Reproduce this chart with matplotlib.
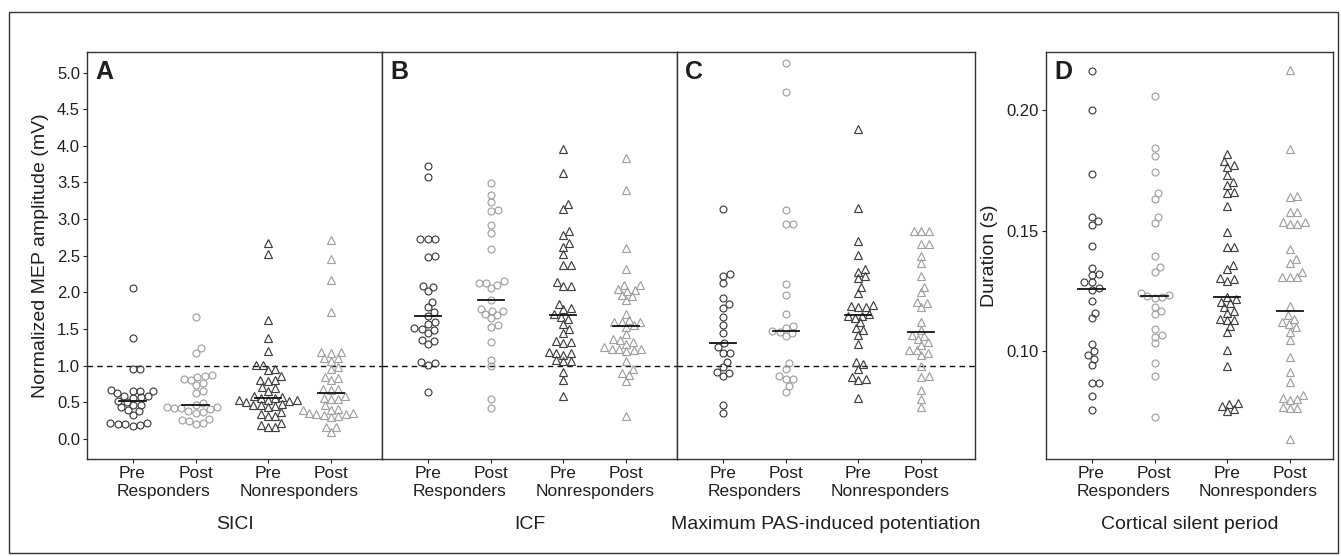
import numpy as np
import matplotlib
matplotlib.use('Agg')
from matplotlib import pyplot as plt
from matplotlib.patches import Rectangle

plt.rcParams['font.family'] = ['Liberation Sans', 'DejaVu Sans']

# valores
groups = ['Pre', 'Post', 'Pre', 'Post']
group_names = ['Responders', 'Nonresponders']
titles = ['SICI', 'ICF', 'Maximum PAS-induced potentiation', 'Cortical silent period']
letters = ['A', 'B', 'C', 'D']

# A - SICI
sici_pre_resp = [2.06, 1.38, 0.96, 0.96, 0.67, 0.66, 0.65, 0.65, 0.63, 0.59, 0.58, 0.57, 0.56,
                 0.52, 0.51, 0.46, 0.44, 0.47, 0.40, 0.38, 0.33, 0.22, 0.22, 0.21, 0.21, 0.18, 0.19]
sici_post_resp = [1.67, 1.24, 1.18, 0.87, 0.86, 0.85, 0.82, 0.80, 0.76, 0.73, 0.65, 0.63, 0.49,
                  0.47, 0.44, 0.43, 0.42, 0.42, 0.41, 0.38, 0.37, 0.36, 0.27, 0.25, 0.26, 0.22, 0.20]
sici_pre_non = [2.68, 2.53, 1.62, 1.38, 1.20, 1.01, 1.01, 0.95, 0.94, 0.86, 0.80, 0.80, 0.79,
                0.70, 0.71, 0.66, 0.58, 0.57, 0.56, 0.56, 0.53, 0.52, 0.51, 0.53, 0.53, 0.48,
                0.47, 0.45, 0.44, 0.46, 0.37, 0.34, 0.31, 0.31, 0.22, 0.19, 0.16, 0.16]
sici_post_non = [2.71, 2.46, 2.17, 1.73, 1.19, 1.19, 1.18, 1.11, 1.11, 1.07, 0.98, 0.95, 0.85,
                 0.83, 0.80, 0.68, 0.68, 0.67, 0.58, 0.56, 0.55, 0.54, 0.46, 0.41, 0.40, 0.40,
                 0.35, 0.34, 0.34, 0.35, 0.32, 0.30, 0.33, 0.17, 0.17, 0.10]

# B - ICF
icf_pre_resp = [3.73, 3.57, 2.73, 2.73, 2.73, 2.48, 2.50, 2.09, 2.02, 2.08, 1.87, 1.80, 1.73,
                1.68, 1.57, 1.60, 1.49, 1.50, 1.52, 1.45, 1.34, 1.30, 1.35, 1.03, 1.01, 1.05, 0.64]
icf_post_resp = [3.49, 3.33, 3.24, 3.11, 3.13, 2.92, 2.81, 2.59, 2.13, 2.15, 2.06, 2.10, 2.13,
                 1.89, 1.75, 1.71, 1.75, 1.78, 1.65, 1.69, 1.55, 1.53, 1.33, 1.08, 0.99, 0.54, 0.42]
icf_pre_non = [3.96, 3.63, 3.21, 3.14, 2.84, 2.78, 2.67, 2.62, 2.53, 2.38, 2.38, 2.09, 2.09,
               2.14, 1.79, 1.77, 1.84, 1.71, 1.64, 1.66, 1.57, 1.50, 1.44, 1.34, 1.31, 1.32,
               1.19, 1.15, 1.18, 1.17, 1.08, 1.07, 1.06, 0.92, 0.80, 0.59]
icf_post_non = [3.84, 3.40, 2.61, 2.32, 2.10, 2.02, 2.03, 2.10, 2.04, 1.96, 1.95, 1.89, 1.71,
                1.60, 1.60, 1.62, 1.60, 1.53, 1.55, 1.43, 1.35, 1.33, 1.36, 1.30, 1.23, 1.23,
                1.23, 1.20, 1.22, 1.25, 1.06, 0.95, 0.87, 0.90, 0.79, 0.31]

# C - PAS
pas_pre_resp = [3.14, 2.25, 2.23, 2.13, 1.93, 1.84, 1.79, 1.67, 1.55, 1.44, 1.31, 1.25, 1.18,
                1.18, 1.05, 0.98, 0.90, 0.91, 0.86, 0.47, 0.36]
pas_post_resp = [5.13, 4.74, 3.12, 2.93, 2.94, 2.11, 1.96, 1.71, 1.52, 1.54, 1.46, 1.45, 1.47,
                 1.41, 1.03, 0.95, 0.86, 0.82, 0.82, 0.72, 0.64]
pas_pre_non = [4.23, 3.15, 2.70, 2.51, 2.23, 2.28, 2.32, 2.19, 2.07, 1.99, 1.83, 1.81, 1.80,
               1.80, 1.68, 1.65, 1.68, 1.70, 1.59, 1.52, 1.49, 1.42, 1.30, 1.05, 1.02, 0.95,
               0.81, 0.82, 0.85, 0.56]
pas_post_non = [2.84, 2.84, 2.84, 2.66, 2.66, 2.50, 2.40, 2.23, 2.08, 2.00, 1.87, 1.85, 1.80,
                1.59, 1.49, 1.41, 1.42, 1.36, 1.32, 1.28, 1.21, 1.21, 1.18, 1.14, 1.00, 0.86,
                0.84, 0.67, 0.54, 0.44]

# D - CSP (s)
csp_pre_resp = [0.2162, 0.2001, 0.1733, 0.1556, 0.1523, 0.1539, 0.1436, 0.1344, 0.1320, 0.1317,
                0.1286, 0.1286, 0.1253, 0.1261, 0.1209, 0.1159, 0.1136, 0.1028, 0.0982, 0.0967,
                0.1000, 0.0942, 0.0866, 0.0866, 0.0815, 0.0755]
csp_post_resp = [0.2058, 0.1844, 0.1808, 0.1741, 0.1633, 0.1656, 0.1555, 0.1532, 0.1396, 0.1349,
                 0.1329, 0.1239, 0.1227, 0.1220, 0.1234, 0.1226, 0.1181, 0.1154, 0.1167, 0.1091,
                 0.1068, 0.1060, 0.1033, 0.0952, 0.0896, 0.0725]
csp_pre_non = [0.1816, 0.1788, 0.1770, 0.1763, 0.1729, 0.1701, 0.1687, 0.1657, 0.1660, 0.1603,
               0.1494, 0.1433, 0.1433, 0.1358, 0.1340, 0.1292, 0.1300, 0.1304, 0.1224, 0.1205,
               0.1199, 0.1216, 0.1181, 0.1166, 0.1156, 0.1133, 0.1129, 0.1130, 0.1080, 0.1104,
               0.1004, 0.0938, 0.0781, 0.0752, 0.0773, 0.0759, 0.0783]
csp_post_non = [0.2166, 0.1838, 0.1640, 0.1645, 0.1577, 0.1577, 0.1534, 0.1534, 0.1527, 0.1527,
                0.1425, 0.1367, 0.1383, 0.1307, 0.1326, 0.1306, 0.1306, 0.1185, 0.1150, 0.1133,
                0.1098, 0.1122, 0.1112, 0.1080, 0.1046, 0.0975, 0.0913, 0.0873, 0.0806, 0.0797,
                0.0817, 0.0801, 0.0765, 0.0765, 0.0769, 0.0636]

panels = [
    [sici_pre_resp, sici_post_resp, sici_pre_non, sici_post_non],
    [icf_pre_resp, icf_post_resp, icf_pre_non, icf_post_non],
    [pas_pre_resp, pas_post_resp, pas_pre_non, pas_post_non],
    [csp_pre_resp, csp_post_resp, csp_pre_non, csp_post_non],
]

xpos = [1, 2, 3.15, 4.15]
dark = '#404040'
light = '#a0a0a0'
txt = '#231f20'
px_unit = 63.0  # pixels per x unit


def swarm(ypix, dx_min, dy_min):
    # beeswarm simples (distancia eliptica): deslocamento mais perto do centro sem sobrepor
    order = np.argsort(ypix)
    ys = np.asarray(ypix) * dx_min / dy_min
    d = dx_min
    xs = np.zeros(len(ys))
    placed = []
    for i in order:
        y = ys[i]
        cands = [0.0]
        for j in placed:
            dy = y - ys[j]
            if abs(dy) < d:
                dx = np.sqrt(d * d - dy * dy)
                cands += [xs[j] + dx, xs[j] - dx]
        cands.sort(key=abs)
        for c in cands:
            ok = True
            for j in placed:
                if (c - xs[j]) ** 2 + (y - ys[j]) ** 2 < d * d - 1e-6:
                    ok = False
                    break
            if ok:
                xs[i] = c
                break
        placed.append(i)
    return xs


W, H = 1341, 556
fig = plt.figure(figsize=(W / 100, H / 100), dpi=100)

boxes = [(87, 382.3), (382.3, 677.3), (677.3, 975), (1046, 1333)]
top, bottom = 52, 459

axes = []
for k, (x0, x1) in enumerate(boxes):
    ax = fig.add_axes([x0 / W, 1 - bottom / H, (x1 - x0) / W, (bottom - top) / H])
    left_lim = 1 - 45.5 / px_unit
    ax.set_xlim(left_lim, left_lim + (x1 - x0) / px_unit)
    if k < 3:
        ax.set_ylim(-0.273, 5.28)
    else:
        ax.set_ylim(0.0552, 0.2241)
    axes.append(ax)

for k, ax in enumerate(axes):
    data = panels[k]
    hpx = bottom - top
    y0, y1 = ax.get_ylim()
    for g, vals in enumerate(data):
        vals = np.array(vals)
        ypix = (vals - y0) / (y1 - y0) * hpx
        off = swarm(ypix, 7.5, 6.5) / px_unit
        color = dark if g % 2 == 0 else light
        marker = 'o' if g < 2 else '^'
        ms = 5.0 if g < 2 else 5.6
        ax.plot(xpos[g] + off, vals, linestyle='none', marker=marker, ms=ms,
                mfc='none', mec=color, mew=0.85, zorder=3)
        med = np.median(vals)
        ax.plot([xpos[g] - 0.21, xpos[g] + 0.21], [med, med], color='#111111', lw=1.3, zorder=4)
    if k < 3:
        ax.axhline(1.0, color='#111111', lw=1.0, ls=(0, (4, 3)), zorder=2)

    ax.set_xticks(xpos)
    ax.set_xticklabels(groups)
    ax.tick_params(axis='x', length=3, width=0.8, pad=2, labelsize=12.5, colors=txt)
    for s in ax.spines.values():
        s.set_color('#333333')
        s.set_linewidth(1.0)

    ax.text(0.5 * (xpos[0] + xpos[1]), -0.081, group_names[0], transform=ax.get_xaxis_transform(),
            ha='center', va='center', fontsize=12.5, color=txt)
    ax.text(0.5 * (xpos[2] + xpos[3]), -0.081, group_names[1], transform=ax.get_xaxis_transform(),
            ha='center', va='center', fontsize=12.5, color=txt)
    ax.text(0.5, -0.162, titles[k], transform=ax.transAxes, ha='center', va='center',
            fontsize=14, color=txt)
    ax.text(8 / (boxes[k][1] - boxes[k][0]), 1 - 8 / (bottom - top), letters[k],
            transform=ax.transAxes, ha='left', va='top', fontsize=18, fontweight='bold', color=txt)

    if k in (0, 3):
        ax.tick_params(axis='y', length=3, width=0.8, pad=2, labelsize=12, colors=txt)
    else:
        ax.tick_params(axis='y', left=False, labelleft=False)

axes[0].set_yticks(np.arange(0, 5.01, 0.5))
axes[0].set_yticklabels(['%.1f' % v for v in np.arange(0, 5.01, 0.5)])
axes[0].set_ylabel('Normalized MEP amplitude (mV)', fontsize=14, color=txt, labelpad=6)
axes[3].set_yticks([0.10, 0.15, 0.20])
axes[3].set_yticklabels(['0.10', '0.15', '0.20'])
axes[3].set_ylabel('Duration (s)', fontsize=14, color=txt, labelpad=6)

# moldura externa
fig.patches.append(Rectangle((9 / W, 1 - 553 / H), 1329 / W, 541 / H, transform=fig.transFigure,
                             fill=False, edgecolor='#333333', lw=1.0))

fig.savefig('out.png', dpi=100)
